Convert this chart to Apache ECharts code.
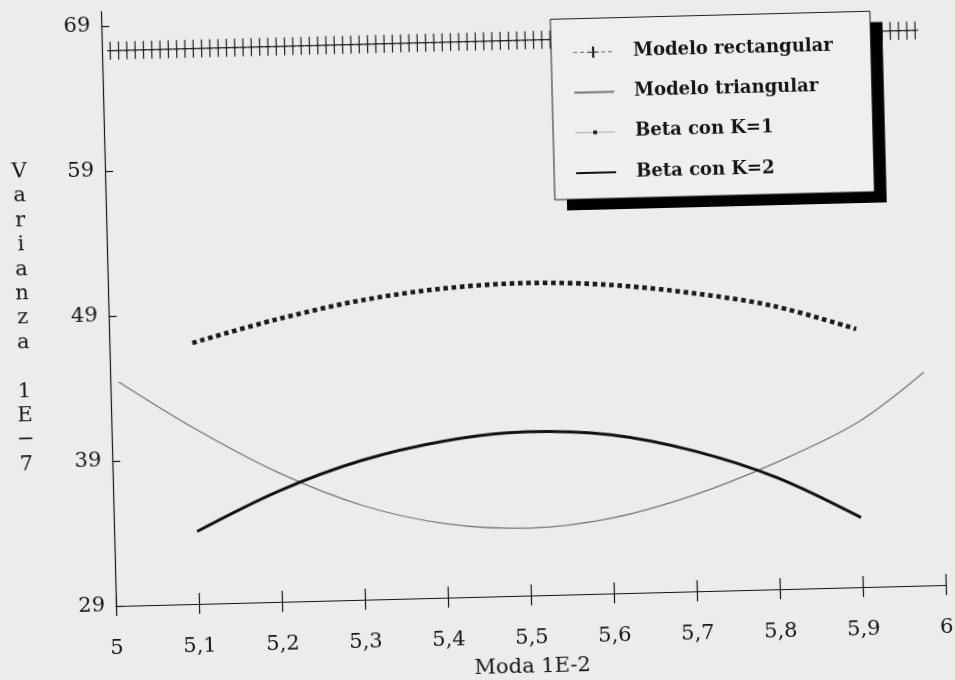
<!DOCTYPE html>
<html><head><meta charset="utf-8">
<script src="https://cdn.jsdelivr.net/npm/echarts@6/dist/echarts.min.js"></script>
<style>
html,body{margin:0;padding:0;width:955px;height:680px;overflow:hidden;background:#ececec;}
#chart{position:absolute;left:-30px;top:-30px;width:1015px;height:770px;transform:rotate(-1.45deg);transform-origin:146px 636px;}
</style></head><body><div id="chart"></div>
<script>
// ---- data ----
const xTicks = [5, 5.1, 5.2, 5.3, 5.4, 5.5, 5.6, 5.7, 5.8, 5.9, 6];
const yTicks = [29, 39, 49, 59, 69];

// Modelo rectangular (marks every 0.01)
const rectX = [5.01,5.02,5.03,5.04,5.05,5.06,5.07,5.08,5.09,5.10,
  5.11,5.12,5.13,5.14,5.15,5.16,5.17,5.18,5.19,5.20,
  5.21,5.22,5.23,5.24,5.25,5.26,5.27,5.28,5.29,5.30,
  5.31,5.32,5.33,5.34,5.35,5.36,5.37,5.38,5.39,5.40,
  5.41,5.42,5.43,5.44,5.45,5.46,5.47,5.48,5.49,5.50,
  5.51,5.52,5.53,5.54,5.55,5.56,5.57,5.58,5.59,5.60,
  5.61,5.62,5.63,5.64,5.65,5.66,5.67,5.68,5.69,5.70,
  5.71,5.72,5.73,5.74,5.75,5.76,5.77,5.78,5.79,5.80,
  5.81,5.82,5.83,5.84,5.85,5.86,5.87,5.88,5.89,5.90,
  5.91,5.92,5.93,5.94,5.95,5.96,5.97,5.98];
const rectY = [67.3,67.3,67.3,67.3,67.3,67.3,67.3,67.3,67.3,67.3,
  67.3,67.3,67.3,67.3,67.3,67.3,67.3,67.3,67.3,67.3,
  67.3,67.3,67.3,67.3,67.3,67.3,67.3,67.3,67.3,67.3,
  67.3,67.3,67.3,67.3,67.3,67.3,67.3,67.3,67.3,67.3,
  67.3,67.3,67.3,67.3,67.3,67.3,67.3,67.3,67.3,67.3,
  67.3,67.3,67.3,67.3,67.3,67.3,67.3,67.3,67.3,67.3,
  67.3,67.3,67.3,67.3,67.3,67.3,67.3,67.3,67.3,67.3,
  67.3,67.3,67.3,67.3,67.3,67.3,67.3,67.3,67.3,67.3,
  67.3,67.3,67.3,67.3,67.3,67.3,67.3,67.3,67.3,67.3,
  67.3,67.3,67.3,67.3,67.3,67.3,67.3,67.3];

// Modelo triangular
const triX = [5.01, 5.1, 5.2, 5.3, 5.4, 5.5, 5.6, 5.7, 5.8, 5.9, 5.98];
const triY = [44.45, 41.1, 37.9, 35.5, 34.1, 33.65, 34.2, 35.65, 37.75, 40.4, 43.7];

// Beta
const betaX = [5.1, 5.2, 5.3, 5.4, 5.5, 5.6, 5.7, 5.8, 5.9];
const betaK1 = [47.0, 48.45, 49.6, 50.3, 50.55, 50.3, 49.6, 48.55, 46.8];
const betaK2 = [34.0, 36.65, 38.6, 39.8, 40.3, 39.95, 38.7, 36.7, 33.8];

const seriesNames = ['Modelo rectangular', 'Modelo triangular', 'Beta con K=1', 'Beta con K=2'];
const xName = 'Moda 1E-2';
const yName = ['V','a','r','i','a','n','z','a','','1','E','\u2212','7'];

// ---- chart ----
const pairs = (xs, ys) => xs.map((x, i) => [x, ys[i]]);
const FONT = '"DejaVu Serif", "Liberation Serif", serif';
const INK = '#151515';
const SMOOTH = 0.33;
const plusPath = 'path://M2.4,0 H3.6 V8.4 H6 V9.6 H3.6 V18 H2.4 V9.6 H0 V8.4 H2.4 Z';
const dotPath = 'path://M0,0h0.01v0.01h-0.01z M9.99,9.99h0.01v0.01h-0.01z M3.3,3.3h3.4v3.4h-3.4z';

const legendBase = {
  orient: 'vertical', left: 595, top: 60.5,
  padding: [24.8, 38, 17.1, 21],
  itemWidth: 40, itemHeight: 14, itemGap: 22.2,
  textStyle: {color: INK, fontFamily: FONT, fontSize: 18, fontWeight: 'bold', padding: [0, 0, 0, 15]}
};

const chart = echarts.init(document.getElementById('chart'), null, {renderer: 'canvas'});
chart.setOption({
  animation: false,
  backgroundColor: '#ececec',
  grid: {left: 146, right: 39, top: 41.5, bottom: 134, containLabel: false},
  xAxis: [{
    type: 'value', min: 5, max: 6, interval: 0.1,
    axisLine: {lineStyle: {color: INK, width: 1.2}},
    axisTick: {inside: true, length: 11, customValues: xTicks, lineStyle: {color: INK, width: 1.2}},
    axisLabel: {customValues: xTicks, margin: 32, color: INK, fontFamily: FONT, fontSize: 21, lineHeight: 22,
      formatter: v => String(+(+v).toFixed(1)).replace('.', ',')},
    splitLine: {show: false},
    name: xName, nameLocation: 'middle', nameGap: 61,
    nameTextStyle: {color: INK, fontFamily: FONT, fontSize: 21, lineHeight: 22}
  }, {
    type: 'value', min: 5, max: 6, position: 'bottom',
    axisLine: {show: false},
    axisTick: {inside: false, length: 10, customValues: xTicks, lineStyle: {color: INK, width: 1.2}},
    axisLabel: {show: false},
    splitLine: {show: false}
  }],
  yAxis: {
    type: 'value', min: 29, max: 70,
    axisLine: {lineStyle: {color: INK, width: 1.2}},
    axisTick: {inside: true, length: 8, customValues: yTicks, lineStyle: {color: INK, width: 1.2}},
    axisLabel: {customValues: yTicks, margin: 11, color: INK, fontFamily: FONT, fontSize: 21},
    splitLine: {show: false}
  },
  graphic: [{
    type: 'text', x: 60, y: 346,
    style: {text: yName.join('\n'), fill: INK, font: '21px ' + FONT, lineHeight: 24.4,
      align: 'center', verticalAlign: 'middle'}
  }],
  legend: [
    Object.assign({}, legendBase, {
      z: 8,
      backgroundColor: '#efefef', borderWidth: 0,
      shadowColor: '#000', shadowBlur: 0, shadowOffsetX: 12, shadowOffsetY: 11,
      textStyle: Object.assign({}, legendBase.textStyle, {color: 'rgba(0,0,0,0)'}),
      itemStyle: {opacity: 0}, lineStyle: {opacity: 0},
      selectedMode: false,
      data: seriesNames.slice()
    }),
    Object.assign({}, legendBase, {
      z: 9,
      backgroundColor: 'transparent', borderColor: '#222', borderWidth: 1,
      data: [
        {name: seriesNames[0], lineStyle: {type: [4, 3], color: '#666', width: 1}},
        {name: seriesNames[1], itemStyle: {opacity: 0}},
        {name: seriesNames[2], lineStyle: {type: 'solid', color: '#aaa', width: 1}},
        {name: seriesNames[3], itemStyle: {opacity: 0}}
      ]
    })
  ],
  series: [{
    name: seriesNames[0], type: 'line', data: pairs(rectX, rectY),
    symbol: plusPath, symbolSize: [6, 18], showSymbol: true,
    itemStyle: {color: '#222'}, lineStyle: {color: '#333', width: 1.2}
  }, {
    name: seriesNames[1], type: 'line', data: pairs(triX, triY), smooth: SMOOTH,
    symbol: 'none', itemStyle: {color: '#777'}, lineStyle: {color: '#777', width: 1.3}
  }, {
    name: seriesNames[2], type: 'line', data: pairs(betaX, betaK1), smooth: SMOOTH,
    symbol: dotPath, showSymbol: false, itemStyle: {color: '#1a1a1a'},
    lineStyle: {color: '#1a1a1a', width: 4.6, type: [4.6, 3.7], cap: 'butt'}
  }, {
    name: seriesNames[3], type: 'line', data: pairs(betaX, betaK2), smooth: SMOOTH,
    symbol: 'none', itemStyle: {color: '#111'}, lineStyle: {color: '#111', width: 3}
  }]
});
</script></body></html>
